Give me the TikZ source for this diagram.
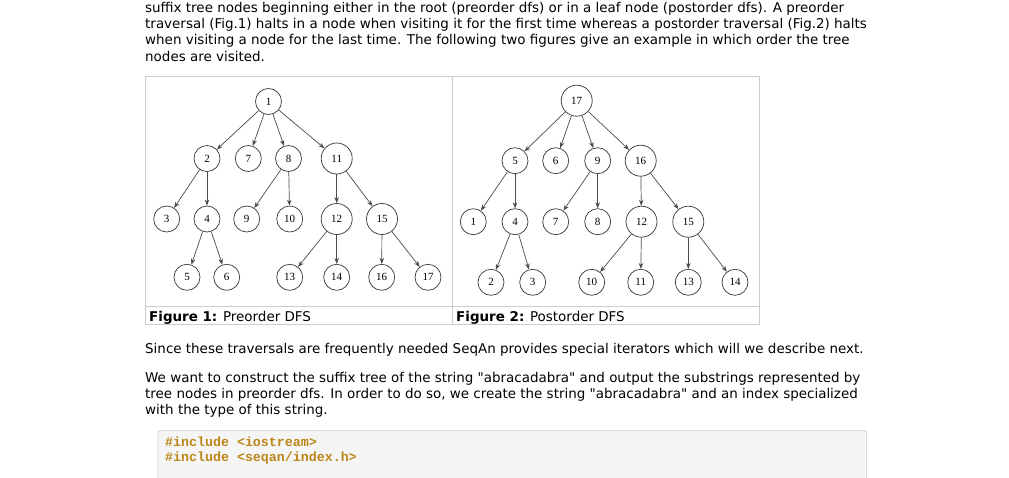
\documentclass[tikz,border=0pt]{standalone}
\usepackage{fontspec}
\setmainfont{DejaVu Sans}
\newfontfamily\treefont{Liberation Serif}
\newfontfamily\codefont{Liberation Mono}
\usetikzlibrary{arrows.meta}
\definecolor{codeorange}{RGB}{188,134,24}

\begin{document}
\begin{tikzpicture}[x=1pt, y=-1pt,
    tnode/.style={draw=black!75, line width=0.75pt, circle, inner sep=0pt, minimum size=26pt, font=\treefont\fontsize{11}{12}\selectfont},
    bignode/.style={tnode, minimum size=31pt},
    edge/.style={draw=black!70, line width=0.7pt, arrows = {-Stealth[length=6pt, width=4.5pt]}},
    line/.style={anchor=base west, inner sep=0pt, font=\fontsize{13.45}{16}\selectfont},
    codeline/.style={anchor=base west, inner sep=0pt, text=codeorange, font=\codefont\bfseries\fontsize{13.3}{15}\selectfont},
    frame/.style={draw=black!20, line width=1pt}]
    \fill[white] (0,0) rectangle (1009,478);
    \useasboundingbox (0,0) rectangle (1009,478);
    \clip (0,0) rectangle (1009,478);

    % Text above
    \node[line] (l1) at (145,12.3) {suffix tree nodes beginning either in the root (preorder dfs) or in a leaf node (postorder dfs). A preorder};
    \node[line] (l2) at (145,28.7) {traversal (Fig.1) halts in a node when visiting it for the first time whereas a postorder traversal (Fig.2) halts};
    \node[line] (l3) at (145,45) {when visiting a node for the last time. The following two figures give an example in which order the tree};
    \node[line] (l4) at (145,61.3) {nodes are visited.};

    % Figure table
    \draw[frame] (145,77) rectangle (759,324);
    \draw[frame] (452,77) -- (452,324);
    \draw[frame] (145,306) -- (759,306);
    \node[line] (cap1) at (149,321) {\textbf{Figure 1:} Preorder DFS};
    \node[line] (cap2) at (456,321) {\textbf{Figure 2:} Postorder DFS};

    % Nodes (preorder)
    \node[tnode] (p1) at (268.5,101.5) {1};
    \node[tnode] (p2) at (207,158.5) {2};
    \node[tnode] (p7) at (248.3,158.5) {7};
    \node[tnode] (p8) at (288.5,158.5) {8};
    \node[bignode] (p11) at (336.7,158.5) {11};
    \node[tnode] (p3) at (166.7,219) {3};
    \node[tnode] (p4) at (207,219) {4};
    \node[tnode] (p9) at (246.7,219) {9};
    \node[tnode] (p10) at (289.7,219) {10};
    \node[bignode] (p12) at (336.7,219) {12};
    \node[bignode] (p15) at (382,219) {15};
    \node[tnode] (p5) at (187,277.3) {5};
    \node[tnode] (p6) at (226.7,277.3) {6};
    \node[tnode] (p13) at (289.7,277.3) {13};
    \node[tnode] (p14) at (336.7,277.3) {14};
    \node[tnode] (p16) at (381.7,277.3) {16};
    \node[tnode] (p17) at (428,277.3) {17};

    % Nodes (postorder)
    \node[bignode] (q17) at (576.7,100.7) {17};
    \node[tnode] (q5) at (515,160.7) {5};
    \node[tnode] (q6) at (555.7,160.7) {6};
    \node[tnode] (q9) at (597.7,160.7) {9};
    \node[bignode] (q16) at (640.7,160.7) {16};
    \node[tnode] (q1) at (473.3,221.7) {1};
    \node[tnode] (q4) at (515,221.7) {4};
    \node[tnode] (q7) at (555.7,221.7) {7};
    \node[tnode] (q8) at (597.7,221.7) {8};
    \node[bignode] (q12) at (641.5,221.7) {12};
    \node[bignode] (q15) at (688.3,221.7) {15};
    \node[tnode] (q2) at (491,282.3) {2};
    \node[tnode] (q3) at (532.7,282.3) {3};
    \node[tnode] (q10) at (591.7,282.3) {10};
    \node[tnode] (q11) at (640.7,282.3) {11};
    \node[tnode] (q13) at (688.3,282.3) {13};
    \node[tnode] (q14) at (735,282.3) {14};

    % Connections (preorder)
    \draw[edge] (p1) to (p2);
    \draw[edge] (p1) to (p7);
    \draw[edge] (p1) to (p8);
    \draw[edge] (p1) to (p11);
    \draw[edge] (p2) to (p3);
    \draw[edge] (p2) to (p4);
    \draw[edge] (p4) to (p5);
    \draw[edge] (p4) to (p6);
    \draw[edge] (p8) to (p9);
    \draw[edge] (p8) to (p10);
    \draw[edge] (p11) to (p12);
    \draw[edge] (p11) to (p15);
    \draw[edge] (p12) to (p13);
    \draw[edge] (p12) to (p14);
    \draw[edge] (p15) to (p16);
    \draw[edge] (p15) to (p17);

    % Connections (postorder)
    \draw[edge] (q17) to (q5);
    \draw[edge] (q17) to (q6);
    \draw[edge] (q17) to (q9);
    \draw[edge] (q17) to (q16);
    \draw[edge] (q5) to (q1);
    \draw[edge] (q5) to (q4);
    \draw[edge] (q4) to (q2);
    \draw[edge] (q4) to (q3);
    \draw[edge] (q9) to (q7);
    \draw[edge] (q9) to (q8);
    \draw[edge] (q16) to (q12);
    \draw[edge] (q16) to (q15);
    \draw[edge] (q12) to (q10);
    \draw[edge] (q12) to (q11);
    \draw[edge] (q15) to (q13);
    \draw[edge] (q15) to (q14);

    % Text below
    \node[line] (l5) at (145,353.3) {Since these traversals are frequently needed SeqAn provides special iterators which will we describe next.};
    \node[line] (l6) at (145,382.7) {We want to construct the suffix tree of the string \textquotedbl abracadabra\textquotedbl{} and output the substrings represented by};
    \node[line] (l7) at (145,398.7) {tree nodes in preorder dfs. In order to do so, we create the string \textquotedbl abracadabra\textquotedbl{} and an index specialized};
    \node[line] (l8) at (145,414.7) {with the type of this string.};

    % Code box
    \draw[draw=black!35, fill=black!4, rounded corners=2pt] (158,430.7) rectangle (866.7,500);
    \node[codeline] (c1) at (165,446.5) {\#include <iostream>};
    \node[codeline] (c2) at (165,461.5) {\#include <seqan/index.h>};
\end{tikzpicture}
\end{document}
